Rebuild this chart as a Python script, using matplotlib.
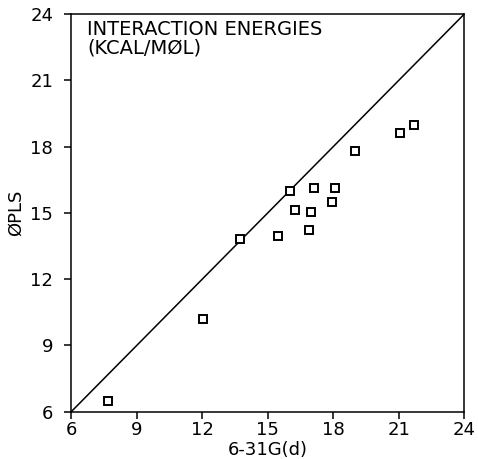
import matplotlib
matplotlib.use('Agg')
import matplotlib.pyplot as plt

plt.rcParams['font.family'] = ['DejaVu Sans']

# 6-31G(d) vs OPLS interaction energies (kcal/mol)
ab_initio = [7.7, 12.05, 13.75, 15.45, 16.0, 17.1, 18.1, 16.25, 17.0, 17.95, 16.9, 19.0, 21.05, 21.7]
opls = [6.5, 10.2, 13.8, 13.95, 16.0, 16.15, 16.15, 15.15, 15.05, 15.5, 14.25, 17.8, 18.6, 19.0]
ticks = [6, 9, 12, 15, 18, 21, 24]
diag = [6, 24]

fig = plt.figure(figsize=(4.78, 4.59), dpi=100)
ax = fig.add_axes([0.149, 0.103, 0.822, 0.866])

ax.plot(diag, diag, color='black', lw=1.1)
ax.plot(ab_initio, opls, linestyle='none', marker='s', markersize=5.5,
        markerfacecolor='white', markeredgecolor='black', markeredgewidth=1.4)

ax.set_xlim(6, 24)
ax.set_ylim(6, 24)
ax.set_xticks(ticks)
ax.set_yticks(ticks)
ax.tick_params(direction='out', length=5, width=1.1, labelsize=13, pad=2)
ax.tick_params(axis='y', pad=8)
for s in ax.spines.values():
    s.set_linewidth(1.1)

ax.set_xlabel('6-31G(d)', fontsize=13, labelpad=1)
ax.set_ylabel('ØPLS', fontsize=13, labelpad=4)

ax.text(0.04, 0.985, 'INTERACTION ENERGIES\n(KCAL/MØL)', transform=ax.transAxes,
        fontsize=14, va='top', ha='left', linespacing=0.95)

fig.savefig('out.png', dpi=100)
